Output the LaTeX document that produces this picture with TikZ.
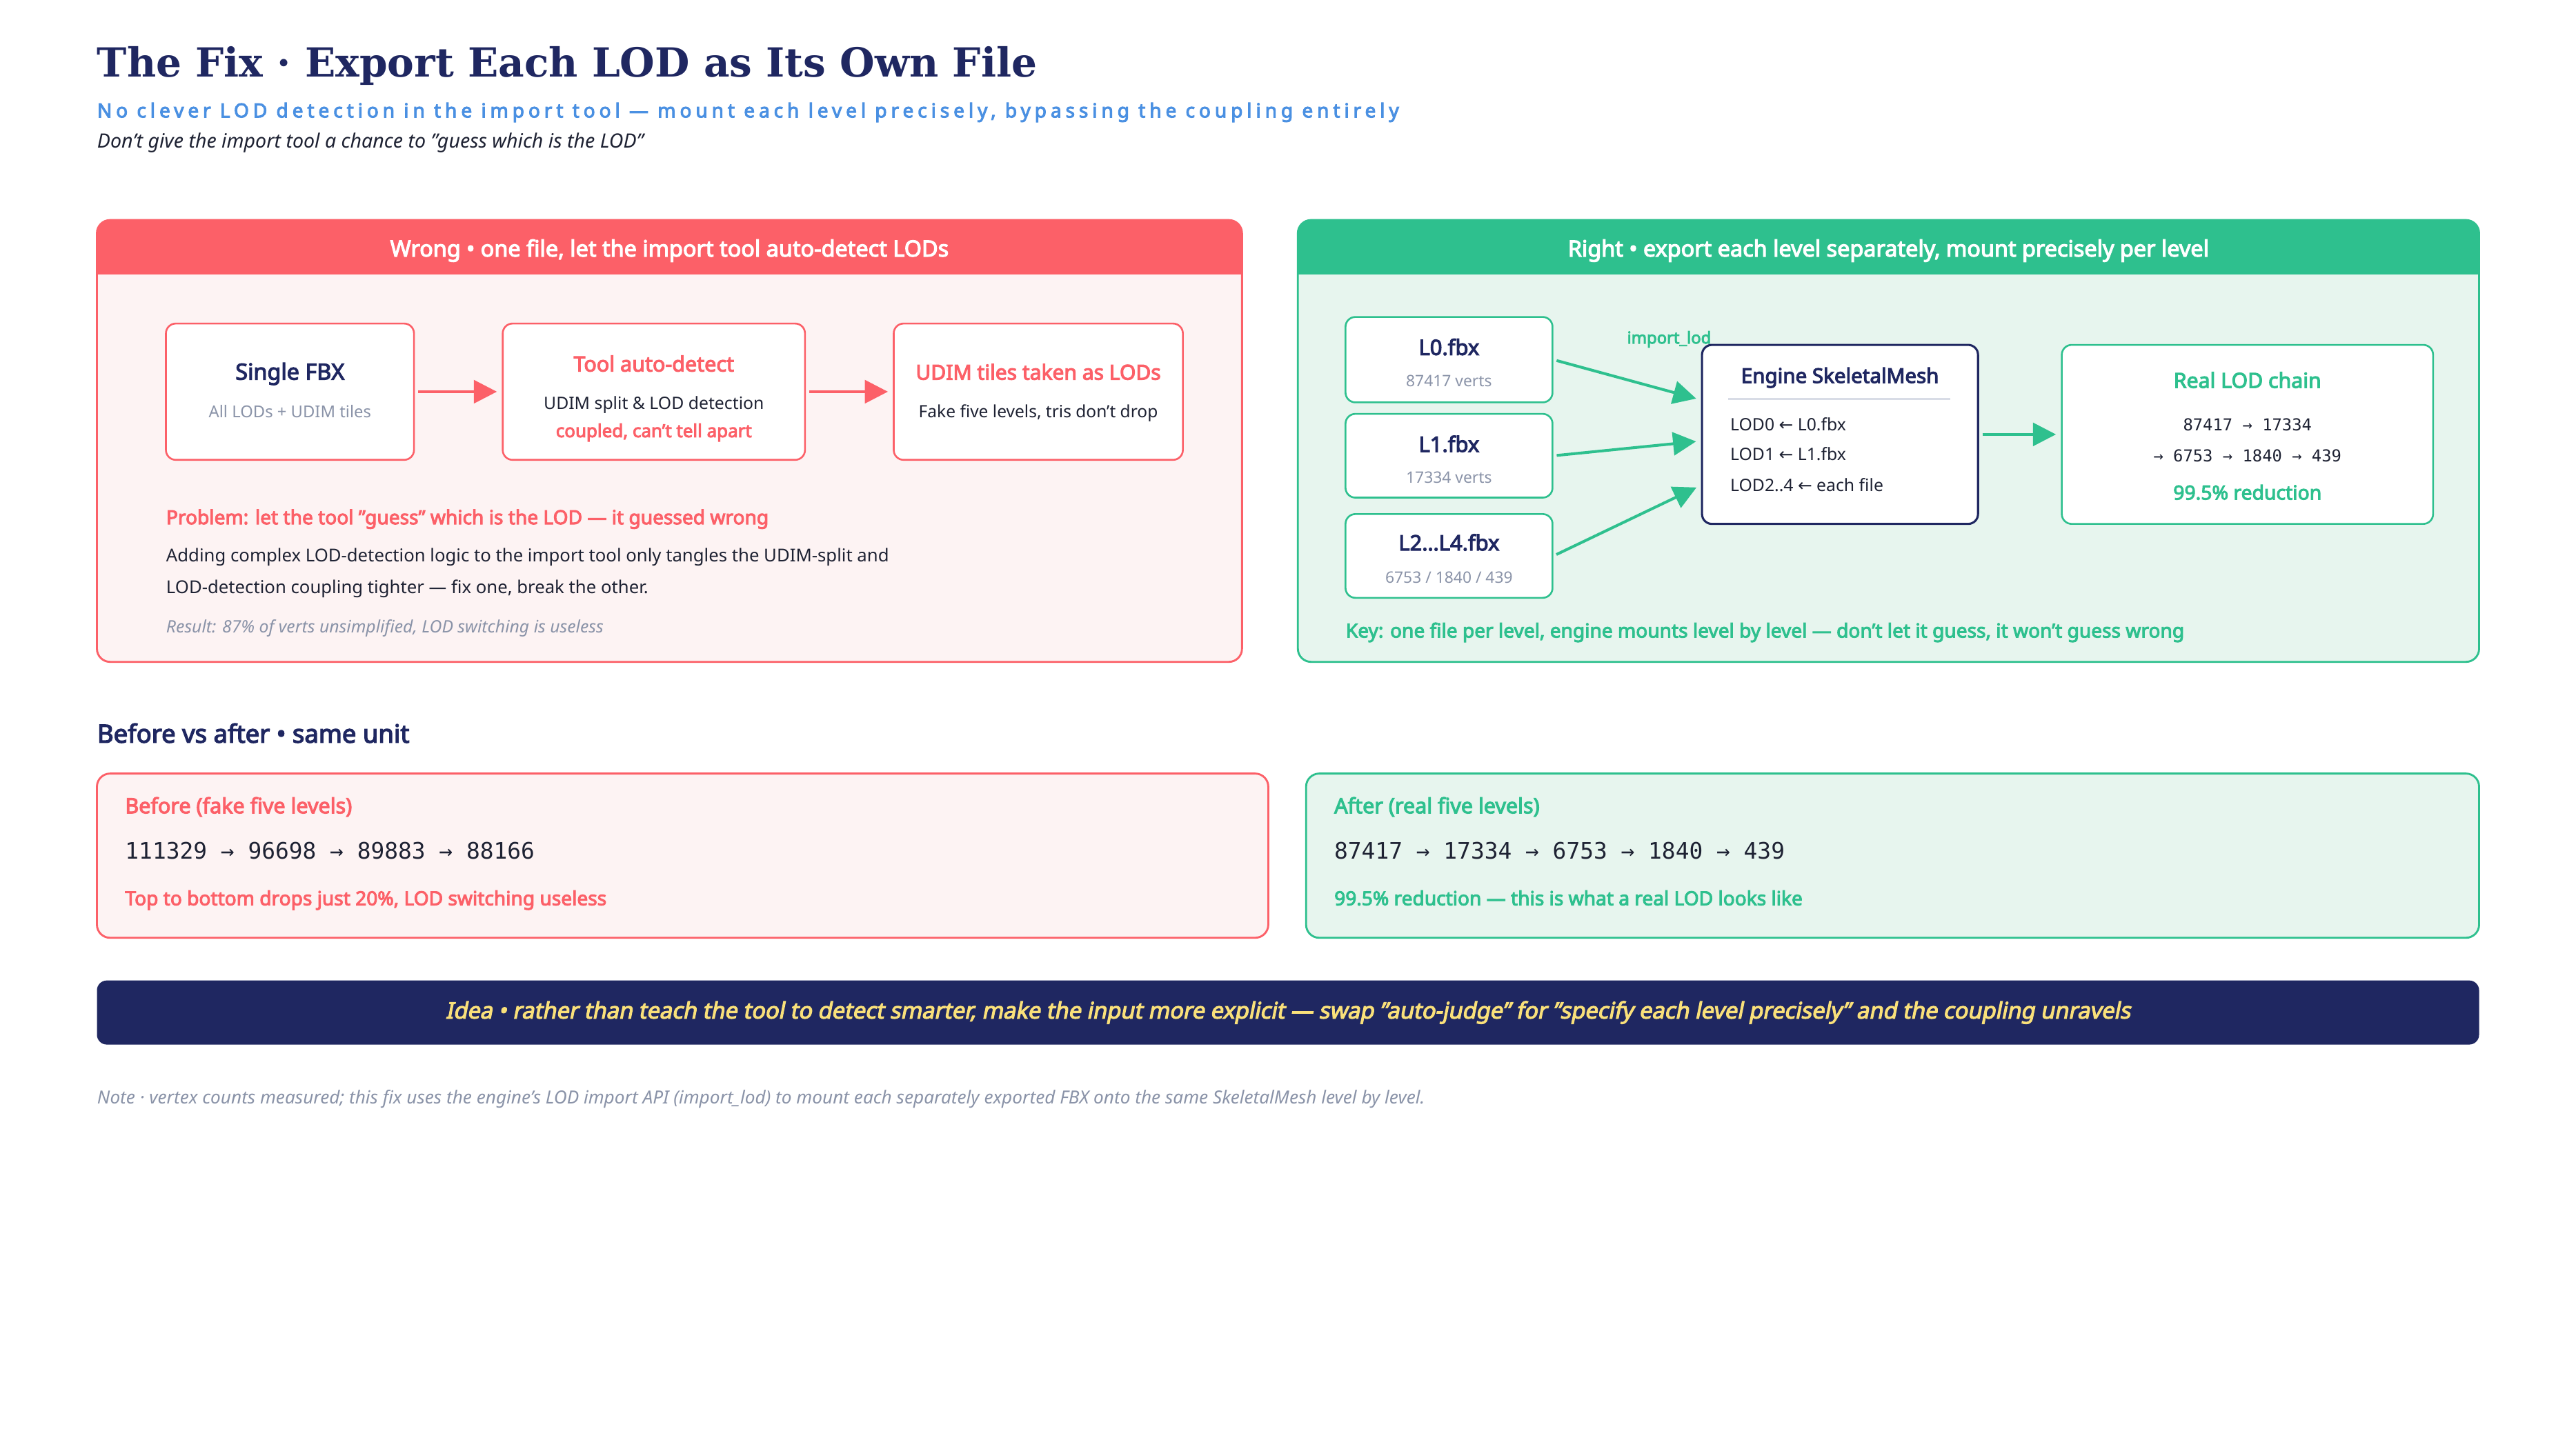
\documentclass[tikz,border=0pt]{standalone}
\usepackage{fontspec}
\setmainfont{Noto Sans}[BoldFont={Noto Sans}, BoldFeatures={FakeBold=3.6}, BoldItalicFont={Noto Sans}, BoldItalicFeatures={FakeBold=3.6, FakeSlant=0.2}]
\newfontfamily\titlefont{DejaVu Serif}
\newfontfamily\numfont{DejaVu Sans Mono}
\newfontfamily\symfont{DejaVu Sans}
\usetikzlibrary{positioning, calc, arrows.meta}

\definecolor{navy}{HTML}{1F2761}
\definecolor{coral}{HTML}{FC6068}
\definecolor{mint}{HTML}{2EC08E}
\definecolor{pinkbg}{HTML}{FDF3F3}
\definecolor{mintbg}{HTML}{E7F5EE}
\definecolor{greytxt}{HTML}{8A93A8}
\definecolor{subblue}{HTML}{4A90E2}
\definecolor{ideayellow}{HTML}{F9E07A}
\definecolor{ink}{HTML}{1E2233}
\definecolor{rulegrey}{HTML}{D8DCE6}

\newcommand\fsz[1]{\fontsize{#1pt}{#1pt}\selectfont}
\newcommand\larr{{\symfont ←}}

\begin{document}
\begin{tikzpicture}[x=1pt, y=-1pt,
    lbl/.style={inner sep=0pt, anchor=mid west, yshift=-1.5pt},
    ctr/.style={inner sep=0pt, anchor=mid, yshift=-1.5pt},
    hdr/.style={inner sep=0pt, anchor=mid, yshift=-1.5pt, text=white, font={\bfseries\fsz{13.6}}},
    redbox/.style={draw=coral, line width=1.1pt, fill=white, rounded corners=6pt, inner sep=0pt},
    greenbox/.style={draw=mint, line width=1.1pt, fill=white, rounded corners=6pt, inner sep=0pt},
    enginebox/.style={draw=navy, line width=1.3pt, fill=white, rounded corners=6pt, inner sep=0pt},
    redarrow/.style={draw=coral, line width=1.7pt, -{Triangle[length=14pt,width=14pt]}, shorten <=2pt, shorten >=3pt},
    greenarrow/.style={draw=mint, line width=1.7pt, -{Triangle[length=14pt,width=14pt]}, shorten <=2pt, shorten >=3pt}]
\useasboundingbox (0,0) rectangle (1568,882);
\fill[white] (0,0) rectangle (1568,882);

% heading
\node[inner sep=0pt, anchor=base west, font={\titlefont\bfseries\fsz{24.4}}, text=navy] (title) at (59,47) {The Fix · Export Each LOD as Its Own File};
\node[inner sep=0pt, anchor=base west, font={\bfseries\fsz{11.8}\addfontfeatures{LetterSpace=21}}, text=subblue] (subtitle) at (59,71.5) {No clever LOD detection in the import tool — mount each level precisely, bypassing the coupling entirely};
\node[inner sep=0pt, anchor=base west, font={\itshape\fsz{12}}, text=ink] (hint) at (59,90) {Don't give the import tool a chance to "guess which is the LOD"};

% wrong panel
\begin{scope}
  \clip[rounded corners=8pt] (59,134) rectangle (756,403);
  \fill[pinkbg] (59,134) rectangle (756,403);
  \fill[coral] (59,134) rectangle (756,167);
\end{scope}
\draw[coral, line width=1.2pt, rounded corners=8pt] (59,134) rectangle (756,403);
\node[hdr] (wronghdr) at (407.5,152) {Wrong • one file, let the import tool auto-detect LODs};

\node[redbox, minimum width=151pt, minimum height=83pt] (single) at (176.5,238.5) {};
\node[redbox, minimum width=184pt, minimum height=83pt] (tool) at (398,238.5) {};
\node[redbox, minimum width=176pt, minimum height=83pt] (udim) at (632,238.5) {};
\node[ctr, font={\bfseries\fsz{13.6}}, text=navy] (singlet) at (176.5,227) {Single FBX};
\node[ctr, font=\fsz{10}, text=greytxt] (singles) at (176.5,250) {All LODs + UDIM tiles};
\node[ctr, font={\bfseries\fsz{12.8}}, text=coral] (toolt) at (398,222) {Tool auto-detect};
\node[ctr, font=\fsz{10.4}, text=ink] (tools) at (398,245) {UDIM split \& LOD detection};
\node[ctr, font={\bfseries\fsz{10.9}}, text=coral] (toolw) at (398,262) {coupled, can't tell apart};
\node[ctr, font={\bfseries\fsz{12.6}}, text=coral] (udimt) at (632,227) {UDIM tiles taken as LODs};
\node[ctr, font=\fsz{10.3}, text=ink] (udims) at (632,250) {Fake five levels, tris don't drop};
\draw[redarrow] (single) -- (tool);
\draw[redarrow] (tool) -- (udim);

\node[lbl, font={\bfseries\fsz{11.8}}, text=coral] (problem) at (101,315) {Problem: let the tool "guess" which is the LOD — it guessed wrong};
\node[lbl, font=\fsz{10.8}, text=ink] (why1) at (101,338) {Adding complex LOD-detection logic to the import tool only tangles the UDIM-split and};
\node[lbl, font=\fsz{10.8}, text=ink] (why2) at (101,357) {LOD-detection coupling tighter — fix one, break the other.};
\node[lbl, font={\itshape\fsz{10.4}}, text=greytxt] (result) at (101,381) {Result: 87\% of verts unsimplified, LOD switching is useless};

% right panel
\begin{scope}
  \clip[rounded corners=8pt] (790,134) rectangle (1509,403);
  \fill[mintbg] (790,134) rectangle (1509,403);
  \fill[mint] (790,134) rectangle (1509,167);
\end{scope}
\draw[mint, line width=1.2pt, rounded corners=8pt] (790,134) rectangle (1509,403);
\node[hdr] (righthdr) at (1149.5,152) {Right • export each level separately, mount precisely per level};

\node[greenbox, minimum width=126pt, minimum height=52pt] (lzero) at (882,219) {};
\node[greenbox, minimum width=126pt, minimum height=51pt] (lone) at (882,277.5) {};
\node[greenbox, minimum width=126pt, minimum height=51pt] (lrest) at (882,338.5) {};
\node[ctr, font={\bfseries\fsz{13}}, text=navy] (lzerot) at (882,212) {L0.fbx};
\node[ctr, font=\fsz{9.6}, text=greytxt] (lzeros) at (882,231) {87417 verts};
\node[ctr, font={\bfseries\fsz{13}}, text=navy] (lonet) at (882,271) {L1.fbx};
\node[ctr, font=\fsz{9.6}, text=greytxt] (lones) at (882,290) {17334 verts};
\node[ctr, font={\bfseries\fsz{13}}, text=navy] (lrestt) at (882,331) {L2…L4.fbx};
\node[ctr, font=\fsz{9.6}, text=greytxt] (lrests) at (882,351) {6753 / 1840 / 439};

\node[enginebox, minimum width=168pt, minimum height=109pt] (engine) at (1120,264.5) {};
\node[ctr, font={\bfseries\fsz{12.4}}, text=navy] (enginet) at (1120,229) {Engine SkeletalMesh};
\draw[rulegrey, line width=1pt] (1052,243) -- (1187,243);
\node[lbl, font=\fsz{10.4}, text=ink] (mapzero) at (1053,258) {LOD0 \larr{} L0.fbx};
\node[lbl, font=\fsz{10.4}, text=ink] (mapone) at (1053,276) {LOD1 \larr{} L1.fbx};
\node[lbl, font=\fsz{10.4}, text=ink] (maprest) at (1053,295) {LOD2..4 \larr{} each file};
\node[ctr, font={\bfseries\fsz{10}}, text=mint] (importlod) at (1016,205) {import\_lod};

\node[greenbox, minimum width=226pt, minimum height=109pt] (chain) at (1368,264.5) {};
\node[ctr, font={\bfseries\fsz{12.7}}, text=mint] (chaint) at (1368,232) {Real LOD chain};
\node[ctr, font={\numfont\fsz{10}}, text=ink] (chaina) at (1368,258) {87417 → 17334};
\node[ctr, font={\numfont\fsz{10}}, text=ink] (chainb) at (1368,277) {→ 6753 → 1840 → 439};
\node[ctr, font={\bfseries\fsz{11.9}}, text=mint] (chainc) at (1368,300) {99.5\% reduction};

\draw[greenarrow] (lzero.east) -- ($(engine.west)+(0,-21)$);
\draw[greenarrow] (lone.east) -- ($(engine.west)+(0,4)$);
\draw[greenarrow] (lrest.east) -- ($(engine.west)+(0,31)$);
\draw[greenarrow] (engine) -- (chain);

\node[lbl, font={\bfseries\fsz{11.8}}, text=mint] (key) at (819,384) {Key: one file per level, engine mounts level by level — don't let it guess, it won't guess wrong};

% before vs after
\node[lbl, font={\bfseries\fsz{15.3}}, text=navy] (cmp) at (59,448) {Before vs after • same unit};
\node[draw=coral, line width=1.2pt, fill=pinkbg, rounded corners=8pt, minimum width=713pt, minimum height=100pt] (before) at (415.5,521) {};
\node[draw=mint, line width=1.2pt, fill=mintbg, rounded corners=8pt, minimum width=714pt, minimum height=100pt] (after) at (1152,521) {};
\node[lbl, font={\bfseries\fsz{12.8}}, text=coral] (beforet) at (76,491) {Before (fake five levels)};
\node[lbl, font={\numfont\fsz{13.8}}, text=ink] (beforen) at (76,519) {111329 → 96698 → 89883 → 88166};
\node[lbl, font={\bfseries\fsz{11.8}}, text=coral] (befores) at (76,547) {Top to bottom drops just 20\%, LOD switching useless};
\node[lbl, font={\bfseries\fsz{12.8}}, text=mint] (aftert) at (812,491) {After (real five levels)};
\node[lbl, font={\numfont\fsz{13.8}}, text=ink] (aftern) at (812,519) {87417 → 17334 → 6753 → 1840 → 439};
\node[lbl, font={\bfseries\fsz{11.8}}, text=mint] (afters) at (812,547) {99.5\% reduction — this is what a real LOD looks like};

% idea band
\node[fill=navy, rounded corners=6pt, minimum width=1450pt, minimum height=39pt, inner sep=0pt, font={\bfseries\itshape\fsz{13.7}}, text=ideayellow] (idea) at (784,616.5) {Idea • rather than teach the tool to detect smarter, make the input more explicit — swap "auto-judge" for "specify each level precisely" and the coupling unravels};

\node[lbl, font={\itshape\fsz{11}}, text=greytxt] (note) at (59,668) {Note · vertex counts measured; this fix uses the engine's LOD import API (import\_lod) to mount each separately exported FBX onto the same SkeletalMesh level by level.};
\end{tikzpicture}
\end{document}
